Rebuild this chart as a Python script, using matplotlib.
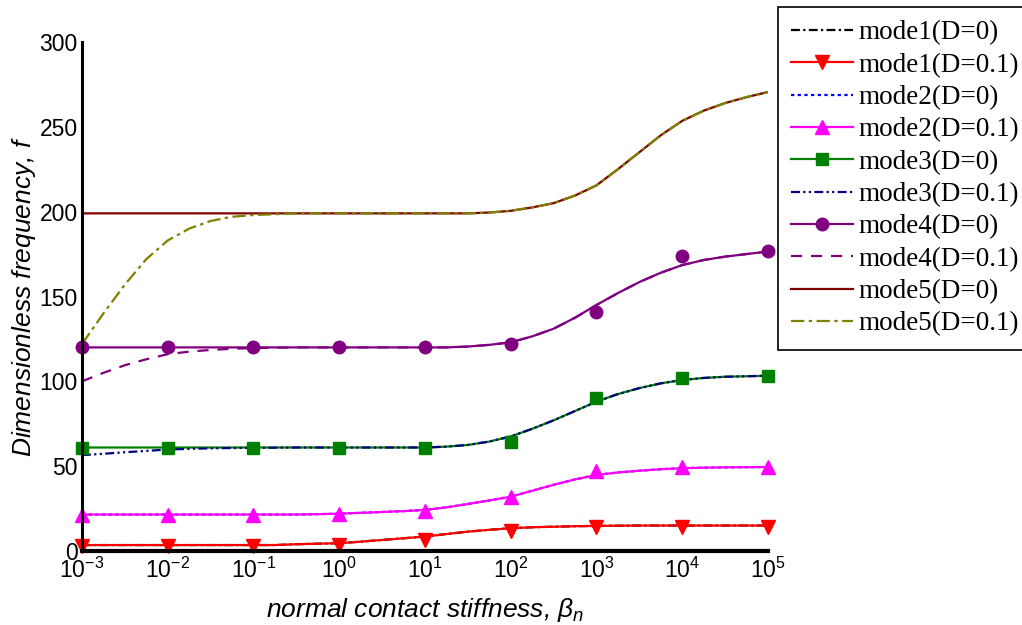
import matplotlib
matplotlib.use('Agg')
import matplotlib.pyplot as plt
from matplotlib.lines import Line2D

plt.rcParams['font.family'] = 'Liberation Sans'
plt.rcParams['mathtext.fontset'] = 'custom'
plt.rcParams['mathtext.rm'] = 'Liberation Sans'
plt.rcParams['mathtext.it'] = 'Liberation Sans:italic'

# log10 of normal contact stiffness, quarter-decade grid
beta_exp = [-3, -2.75, -2.5, -2.25, -2, -1.75, -1.5, -1.25, -1, -0.75, -0.5, -0.25,
            0, 0.25, 0.5, 0.75, 1, 1.25, 1.5, 1.75, 2, 2.25, 2.5, 2.75,
            3, 3.25, 3.5, 3.75, 4, 4.25, 4.5, 4.75, 5]

mode1_d01 = [3.5, 3.5, 3.5, 3.5, 3.5, 3.5, 3.5, 3.5, 3.5, 3.5, 4.0, 4.3,
             4.6, 5.5, 6.5, 7.5, 8.5, 10.0, 11.4, 12.5, 13.4, 14.0, 14.3, 14.6,
             14.8, 14.9, 15, 15, 15, 15, 15, 15, 15]
mode1_d0 = list(mode1_d01)

mode2_d01 = [21.5, 21.5, 21.5, 21.5, 21.5, 21.5, 21.5, 21.5, 21.5, 21.5, 21.5, 21.7,
             22.0, 22.5, 23.0, 23.5, 24.2, 25.7, 27.7, 29.8, 32.0, 35.5, 39.0, 42.2,
             44.8, 46.3, 47.3, 48.2, 48.8, 49.1, 49.3, 49.4, 49.5]
mode2_d0 = list(mode2_d01)

mode3_d0 = [61, 61, 61, 61, 61, 61, 61, 61, 61, 61, 61, 61,
            61, 61, 61, 61, 61, 61.5, 62.5, 64.5, 67.5, 72, 77, 82.5,
            88, 92.5, 96, 98.8, 100.8, 102, 102.7, 103, 103.3]
mode3_d01 = [56.5, 57.3, 58.2, 59, 59.8, 60.2, 60.5, 60.7, 60.8, 60.9, 61, 61,
             61, 61, 61, 61, 61, 61.5, 62.5, 64.5, 67.5, 72, 77, 82.5,
             88, 92.5, 96, 98.8, 100.8, 102, 102.7, 103, 103.3]

mode4_d0 = [120, 120, 120, 120, 120, 120, 120, 120, 120, 120, 120, 120,
            120, 120, 120, 120, 120, 120, 120.5, 121.5, 123, 126.5, 131, 137.5,
            145, 152, 158.5, 164, 168.5, 171.5, 173.5, 175, 176.5]
mode4_d01 = [100, 105, 109.5, 113, 116, 117.5, 118.5, 119.2, 119.6, 119.8, 120, 120,
             120, 120, 120, 120, 120, 120, 120.5, 121.5, 123, 126.5, 131, 137.5,
             145, 152, 158.5, 164, 168.5, 171.5, 173.5, 175, 176.5]

mode5_d0 = [199, 199, 199, 199, 199, 199, 199, 199, 199, 199, 199, 199,
            199, 199, 199, 199, 199, 199, 199, 199.5, 200.5, 202.5, 205, 209.5,
            215.5, 225, 235, 245, 253.5, 259.5, 264, 267.5, 270.5]
mode5_d01 = [122, 140, 157, 172, 183, 190, 194.5, 197, 198, 198.5, 199, 199,
             199, 199, 199, 199, 199, 199, 199, 199.5, 200.5, 202.5, 205, 209.5,
             215.5, 225, 235, 245, 253.5, 259.5, 264, 267.5, 270.5]

# marker values at the decades
decade_exp = [-3, -2, -1, 0, 1, 2, 3, 4, 5]
mode1_mk = [3, 3, 3, 3.5, 6.5, 12, 14, 14, 14]
mode2_mk = [21, 21, 21, 22, 23.5, 32, 47, 49.5, 49.5]
mode3_mk = [61, 61, 61, 61, 61, 64, 90, 102, 103]
mode4_mk = [120, 120, 120, 120, 120, 122, 141, 174, 177]

y_ticks = [0, 50, 100, 150, 200, 250, 300]
x_tick_labels = [r'$\mathregular{10^{%d}}$' % e for e in decade_exp]

legend_labels = ['mode1(D=0)', 'mode1(D=0.1)', 'mode2(D=0)', 'mode2(D=0.1)',
                 'mode3(D=0)', 'mode3(D=0.1)', 'mode4(D=0)', 'mode4(D=0.1)',
                 'mode5(D=0)', 'mode5(D=0.1)']


def main():
    fig = plt.figure(figsize=(10.22, 6.25), dpi=100)
    ax = fig.add_axes([0.0802, 0.1184, 0.6712, 0.8144])

    x = [10.0 ** e for e in beta_exp]
    xm = [10.0 ** e for e in decade_exp]
    lw = 1.6

    # curves (D=0 under, D=0.1 on top)
    ax.plot(x, mode5_d0, color='#800000', lw=lw)
    ax.plot(x, mode5_d01, color='#808000', lw=lw, dashes=(6, 2, 1.5, 2))
    ax.plot(x, mode4_d0, color='#800080', lw=lw)
    ax.plot(x, mode4_d01, color='#800080', lw=lw, dashes=(5, 4))
    ax.plot(x, mode3_d0, color='#008000', lw=lw)
    ax.plot(x, mode3_d01, color='#000080', lw=lw, dashes=(4, 1.5, 1, 1.5, 1, 1.5))
    ax.plot(x, mode2_d0, color='#0000ff', lw=lw, dashes=(1.5, 1.5))
    ax.plot(x, mode2_d01, color='#ff00ff', lw=lw)
    ax.plot(x, mode1_d0, color='black', lw=lw, dashes=(4, 1.5, 1, 1.5))
    ax.plot(x, mode1_d01, color='#ff0000', lw=lw)

    # markers
    ax.plot(xm, mode1_mk, ls='none', marker='v', ms=10, color='#ff0000', clip_on=False)
    ax.plot(xm, mode2_mk, ls='none', marker='^', ms=10, color='#ff00ff', clip_on=False)
    ax.plot(xm, mode3_mk, ls='none', marker='s', ms=8, color='#008000', clip_on=False)
    ax.plot(xm, mode4_mk, ls='none', marker='o', ms=9, color='#800080', clip_on=False)

    ax.set_xscale('log')
    ax.set_xlim(1e-3, 1e5)
    ax.set_ylim(0, 300)
    ax.set_xticks(xm)
    ax.set_xticklabels(x_tick_labels)
    ax.minorticks_off()
    ax.set_yticks(y_ticks)
    ax.tick_params(length=0, labelsize=16.5)
    ax.tick_params(axis='x', pad=5)
    ax.tick_params(axis='y', pad=3)

    for side in ['top', 'right']:
        ax.spines[side].set_visible(False)
    ax.spines['left'].set_linewidth(2.2)
    ax.spines['bottom'].set_linewidth(3)

    ax.set_xlabel(r'normal contact stiffness, $\beta_n$', fontsize=19,
                  style='italic')
    ax.set_ylabel(r'Dimensionless frequency, $f$', fontsize=19,
                  style='italic')
    ax.xaxis.set_label_coords(0.5, -0.088)
    ax.yaxis.set_label_coords(-0.064, 0.5)

    # legend proxies
    handles = [
        Line2D([], [], color='black', lw=lw, dashes=(4, 1.5, 1, 1.5)),
        Line2D([], [], color='#ff0000', lw=lw, marker='v', ms=10),
        Line2D([], [], color='#0000ff', lw=lw, dashes=(1.5, 1.5)),
        Line2D([], [], color='#ff00ff', lw=lw, marker='^', ms=10),
        Line2D([], [], color='#008000', lw=lw, marker='s', ms=8),
        Line2D([], [], color='#000080', lw=lw, dashes=(4, 1.5, 1, 1.5, 1, 1.5)),
        Line2D([], [], color='#800080', lw=lw, marker='o', ms=9),
        Line2D([], [], color='#800080', lw=lw, dashes=(5, 4)),
        Line2D([], [], color='#800000', lw=lw),
        Line2D([], [], color='#808000', lw=lw, dashes=(6, 2, 1.5, 2)),
    ]
    leg = fig.legend(handles, legend_labels, loc='upper right',
                     bbox_to_anchor=(1033 / 1022, 1 - 7 / 625),
                     prop={'family': 'Liberation Serif', 'size': 19.5},
                     fancybox=False, edgecolor='black', framealpha=1,
                     handlelength=2.3, handletextpad=0.2, labelspacing=0.27,
                     borderpad=0.5, borderaxespad=0, numpoints=1)
    leg.get_frame().set_linewidth(1.2)

    fig.savefig('out.png', dpi=100)


if __name__ == '__main__':
    main()
